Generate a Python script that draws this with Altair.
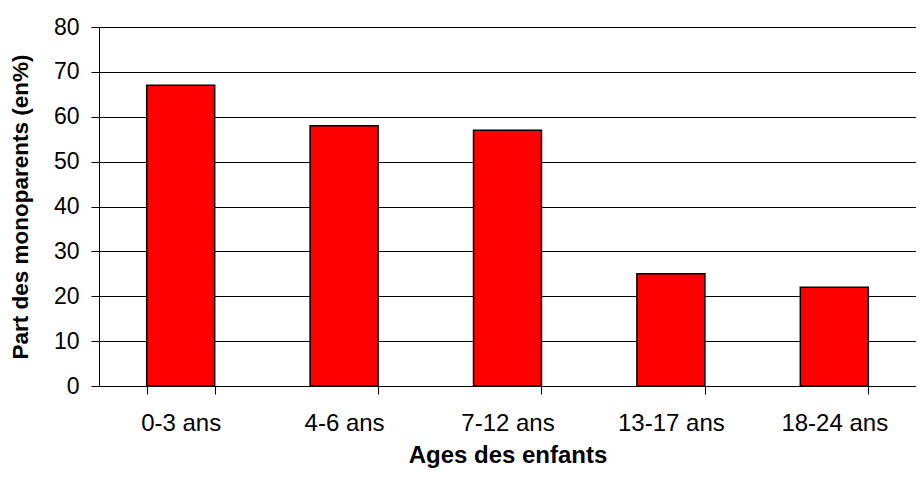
import altair as alt
import pandas as pd

categories = ["0-3 ans", "4-6 ans", "7-12 ans", "13-17 ans", "18-24 ans"]
values = [67, 58, 57, 25, 22]

df = pd.DataFrame({"age": categories, "part": values})

FONT = "Liberation Sans"

chart = alt.Chart(df).mark_bar(
    color="#FF0000", stroke="#000000", strokeWidth=1.5
).encode(
    x=alt.X(
        "age:N",
        sort=categories,
        scale=alt.Scale(paddingInner=0.584, paddingOuter=0.292),
        axis=alt.Axis(
            title="Ages des enfants",
            labelAngle=0,
            tickBand="extent",
            tickSize=8,
            tickColor="#000000",
            domainColor="#000000",
            labelPadding=17,
            labelFont=FONT,
            labelFontSize=24,
            labelColor="#000000",
            titleFont=FONT,
            titleFontSize=24,
            titleFontWeight="bold",
            titleColor="#000000",
            titlePadding=8,
            grid=False,
        ),
    ),
    y=alt.Y(
        "part:Q",
        scale=alt.Scale(domain=[0, 80], nice=False),
        axis=alt.Axis(
            title="Part des monoparents (en%)",
            values=[0, 10, 20, 30, 40, 50, 60, 70, 80],
            tickSize=8,
            tickColor="#000000",
            domainColor="#000000",
            gridColor="#000000",
            gridWidth=1,
            gridOpacity=1,
            labelPadding=12,
            labelFont=FONT,
            labelFontSize=23,
            labelColor="#000000",
            titleFont=FONT,
            titleFontSize=22.5,
            titleFontWeight="bold",
            titleColor="#000000",
            titlePadding=21,
        ),
    ),
).properties(
    width=817,
    height=359,
    autosize=alt.AutoSizeParams(type="none"),
    padding={"left": 91, "top": 19, "right": 0, "bottom": 83},
).configure_view(
    stroke=None
).configure(
    background="#FFFFFF"
)

chart.save(
    "out.html",
    embed_options={
        "renderer": "svg",
        "actions": False,
        "defaultStyle": ".vega-embed{display:block;position:relative}",
    },
)
